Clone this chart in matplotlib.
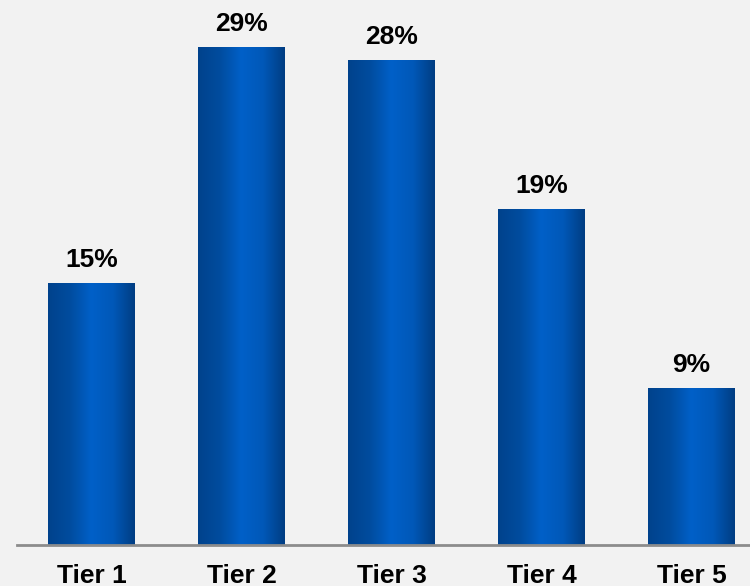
import matplotlib
matplotlib.use("Agg")
import matplotlib.pyplot as plt
from matplotlib.colors import LinearSegmentedColormap
import numpy as np

plt.rcParams['font.family'] = ['Liberation Sans', 'DejaVu Sans']

categories = ["Tier 1", "Tier 2", "Tier 3", "Tier 4", "Tier 5"]
# bar heights (labels are the rounded values)
values = [15.05, 28.6, 27.9, 19.3, 9.0]
value_labels = ["15%", "29%", "28%", "19%", "9%"]

bg = "#f2f2f2"
bar_cmap = LinearSegmentedColormap.from_list(
    "bar", ["#00428c", "#004c9e", "#0060c8", "#0058b8", "#003d82"])

fig = plt.figure(figsize=(7.5, 5.86), dpi=100, facecolor=bg)
ax = fig.add_axes([17 / 750, 41 / 586, 1 - 17 / 750, 545 / 586])
ax.set_facecolor(bg)

width = 0.58
x = np.arange(len(categories))
bars = ax.bar(x, values, width=width, color="none", edgecolor="none")

# horizontal gradient inside each bar
grad = np.linspace(0, 1, 256).reshape(1, -1)
for b in bars:
    x0, y0 = b.get_x(), b.get_y()
    w, h = b.get_width(), b.get_height()
    im = ax.imshow(grad, cmap=bar_cmap, aspect="auto",
                   extent=(x0, x0 + w, y0, y0 + h), zorder=2)
    im.set_clip_path(b)

for xi, v, lab in zip(x, values, value_labels):
    ax.annotate(lab, (xi, v), xytext=(0, 11.5), textcoords="offset points",
                ha="center", va="baseline", fontsize=19, fontweight="bold",
                color="black")

ax.set_xlim(-0.5, 4.39)
ax.set_ylim(0, 545 / 17.4)

ax.set_xticks(x)
ax.set_xticklabels(categories, fontsize=19, fontweight="bold")
ax.tick_params(axis="x", length=0, pad=14)
ax.set_yticks([])

for s in ["top", "right", "left"]:
    ax.spines[s].set_visible(False)
ax.spines["bottom"].set_color("#8c8c8c")
ax.spines["bottom"].set_linewidth(2)

fig.savefig("out.png", dpi=100, facecolor=bg)
